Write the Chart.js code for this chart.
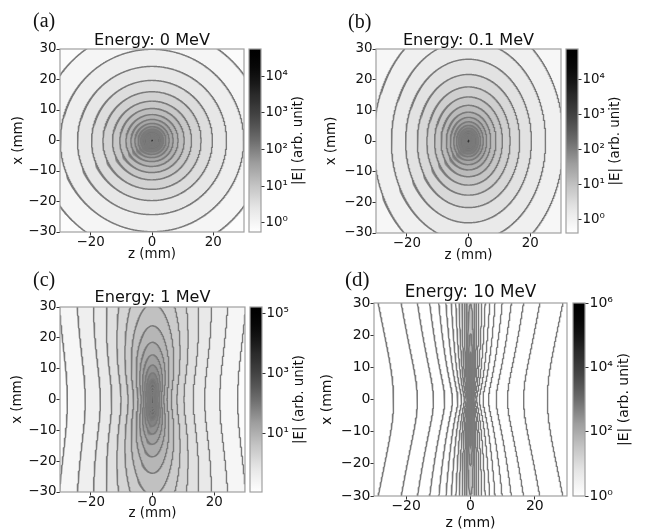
<!DOCTYPE html>
<html><head><meta charset="utf-8">
<script src="https://cdn.jsdelivr.net/npm/chart.js@4.4.1/dist/chart.umd.min.js"></script>
<style>
html,body{margin:0;padding:0;background:#fff;}
#wrap{position:relative;width:646px;height:531px;overflow:hidden;background:#fff;}
#wrap canvas{position:absolute;left:0;top:0;}
</style></head><body><div id="wrap"></div>
<script>
// ---------------- data ----------------
const panelLetters = ['(a)', '(b)', '(c)', '(d)'];
const energiesMeV = [0, 0.1, 1, 10];
const zTickValues = [-20, 0, 20];
const xTickValues = [-30, -20, -10, 0, 10, 20, 30];
// z-intercepts (mm) of each contour line on the x = 0 row
const interceptsA = [36.9, 29.9, 24.3, 19.7, 16.0, 12.9, 10.5, 8.5, 6.9, 5.6, 4.55, 3.7, 3.0, 2.4, 1.95, 1.6, 1.3, 1.05, 0.85, 0.7, 0.56];
const interceptsB = [30.8, 25.0, 20.4, 16.6, 13.5, 11.0, 8.9, 7.2, 5.9, 4.8, 3.9, 3.2, 2.6, 2.1, 1.7, 1.4, 1.1, 0.9, 0.72, 0.58];
const interceptsC = [27.6, 21.8, 16.9, 13.2, 10.2, 7.9, 6.1, 4.7, 3.65, 2.85, 2.2, 1.7, 1.3, 1.0, 0.78, 0.6, 0.47, 0.37, 0.29];
const interceptsD = [23.9, 16.5, 11.5, 8.0, 5.6, 3.9, 2.75, 1.9, 1.35, 0.95, 0.65, 0.46, 0.32, 0.22, 0.16, 0.11, 0.08, 0.055, 0.04];
// colour-bar ranges, log10 |E| (bottom, top)
const colorRangeA = [-0.25, 4.74];
const colorRangeB = [-0.38, 4.88];
const colorRangeC = [-0.95, 5.22];
const colorRangeD = [0, 6];
// colour-bar tick exponents
const colorTicksA = [0, 1, 2, 3, 4];
const colorTicksB = [0, 1, 2, 3, 4];
const colorTicksC = [1, 3, 5];
const colorTicksD = [0, 2, 4, 6];
const fieldScaleLog = 3.065;     // log10 of |E| scale (arb. unit · mm^2)
const electronRestMeV = 0.511;
const colorbarLabel = '|E| (arb. unit)';
const zAxisLabel = 'z (mm)';
const xAxisLabel = 'x (mm)';

// ---------------- layout / style ----------------
const W = 646, H = 531;
const FAM = '"DejaVu Sans", sans-serif';
const TXT = '#111111';
const TICK = '#333333';
const FRAME = '#a0a0a0';
const LINE = '#7a7a7a';
const GAMMA_TONE = 1.6;
const boxes = [
  {L:60,  R:244, T:49,  B:232, cbL:249, cbR:261, yTitleX:19,  xTitleDy:23, titleY:45,  letterX:33,  letterY:27,  fs:13.4, tfs:16.1, lfs:20},
  {L:376, R:561, T:49,  B:233, cbL:566, cbR:578, yTitleX:332, xTitleDy:23, titleY:45,  letterX:348, letterY:28,  fs:13.4, tfs:16.1, lfs:20},
  {L:60,  R:245, T:307, B:492, cbL:250, cbR:262, yTitleX:17.5,xTitleDy:22, titleY:302, letterX:33,  letterY:286, fs:13.4, tfs:16.1, lfs:20},
  {L:374, R:567, T:303, B:496, cbL:573, cbR:585, yTitleX:327, xTitleDy:27, titleY:297, letterX:345, letterY:286, fs:14,   tfs:16.8, lfs:21}
];
const panels = [
  {letter: panelLetters[0], energy: energiesMeV[0], intercepts: interceptsA, range: colorRangeA, cticks: colorTicksA, box: boxes[0]},
  {letter: panelLetters[1], energy: energiesMeV[1], intercepts: interceptsB, range: colorRangeB, cticks: colorTicksB, box: boxes[1]},
  {letter: panelLetters[2], energy: energiesMeV[2], intercepts: interceptsC, range: colorRangeC, cticks: colorTicksC, box: boxes[2]},
  {letter: panelLetters[3], energy: energiesMeV[3], intercepts: interceptsD, range: colorRangeD, cticks: colorTicksD, box: boxes[3]}
];

const SUP = {'0':'\u2070','1':'\u00b9','2':'\u00b2','3':'\u00b3','4':'\u2074','5':'\u2075','6':'\u2076','-':'\u207b'};
const sup = n => String(n).split('').map(c => SUP[c]).join('');
const fmtMinus = v => (v < 0 ? '\u2212' + Math.abs(v) : String(v));

// matplotlib "Greys" (toned to the scanned figure)
const GREYS = [255, 240, 217, 189, 150, 115, 82, 37, 0];
function greyVal(f) {
  f = Math.min(1, Math.max(0, f));
  const p = f * 8, i = Math.min(7, Math.floor(p)), t = p - i;
  const v = GREYS[i] + (GREYS[i + 1] - GREYS[i]) * t;
  return Math.round(255 * Math.pow(v / 255, GAMMA_TONE));
}
const greyAt = f => { const v = greyVal(f); return `rgb(${v},${v},${v})`; };

// level of a contour line given its z-intercept (field of a moving charge)
const levelOf = (r0, gamma) => fieldScaleLog - 2 * Math.log10(gamma) - 2 * Math.log10(r0);

// iso-|E| curve through (z=r0, x=0) for Lorentz factor gamma
function contourPoints(r0, gamma) {
  const b2 = 1 - 1 / (gamma * gamma);
  const pts = [];
  const n = 1440;
  for (let i = 0; i <= n; i++) {
    const psi = 2 * Math.PI * i / n;
    const s = Math.sin(psi), c = Math.cos(psi);
    const r = r0 * Math.pow(1 - b2 * s * s, -0.75);
    pts.push({x: r * c, y: r * s});
  }
  return pts;
}

function addCanvas() {
  const cv = document.createElement('canvas');
  cv.width = W; cv.height = H;
  cv.style.width = W + 'px'; cv.style.height = H + 'px';
  document.getElementById('wrap').appendChild(cv);
  return cv;
}

function makePlot(p) {
  const b = p.box;
  const gamma = 1 + p.energy / electronRestMeV;
  const lv = p.intercepts.map(r => levelOf(r, gamma));
  const span = p.range[1] - p.range[0];
  const frac = L => (L - p.range[0]) / span;
  const n = lv.length;
  const datasets = [];
  for (let k = n - 1; k >= 0; k--) {
    const next = k < n - 1 ? lv[k + 1] : lv[k] + (lv[k] - lv[k - 1]);
    datasets.push({
      data: contourPoints(p.intercepts[k], gamma),
      showLine: true, pointRadius: 0, pointHoverRadius: 0,
      borderColor: LINE, borderWidth: 1.4,
      backgroundColor: greyAt(frac((lv[k] + next) / 2)),
      fill: 'shape', tension: 0, clip: 0
    });
  }
  const outerColor = greyAt(frac(lv[0] - (lv[1] - lv[0]) / 2));
  const yW = b.L - b.yTitleX + b.fs / 2;
  const xH = b.xTitleDy + b.fs / 2;
  const panelPlugin = {
    id: 'panelDeco',
    beforeDatasetsDraw(chart) {
      const a = chart.chartArea, ctx = chart.ctx;
      ctx.save(); ctx.fillStyle = outerColor;
      ctx.fillRect(a.left, a.top, a.right - a.left, a.bottom - a.top);
      ctx.restore();
    },
    afterDatasetsDraw(chart) {
      const a = chart.chartArea, ctx = chart.ctx;
      ctx.save(); ctx.strokeStyle = FRAME; ctx.lineWidth = 1.2;
      ctx.strokeRect(a.left, a.top, a.right - a.left, a.bottom - a.top);
      ctx.restore();
    },
    afterDraw(chart) {
      const a = chart.chartArea, ctx = chart.ctx;
      ctx.save();
      ctx.fillStyle = TXT;
      ctx.font = `${b.tfs}px ${FAM}`;
      ctx.textAlign = 'center'; ctx.textBaseline = 'alphabetic';
      ctx.fillText('Energy: ' + p.energy + ' MeV', (a.left + a.right) / 2, b.titleY);
      ctx.font = `${b.lfs}px "Liberation Serif", "DejaVu Serif", serif`;
      ctx.textAlign = 'left';
      ctx.fillStyle = '#111';
      ctx.fillText(p.letter, b.letterX, b.letterY);
      ctx.restore();
    }
  };
  const tickFont = {family: FAM, size: b.fs, lineHeight: 1};
  return new Chart(addCanvas(), {
    type: 'scatter',
    data: {datasets},
    options: {
      responsive: false, animation: false, events: [],
      layout: {padding: {left: b.L - yW, right: W - b.R, top: b.T, bottom: H - b.B - xH}},
      plugins: {legend: {display: false}, tooltip: {enabled: false}, title: {display: false}},
      scales: {
        x: {
          type: 'linear', min: -30, max: 30,
          afterBuildTicks: s => { s.ticks = zTickValues.map(v => ({value: v})); },
          afterFit: s => { s.height = xH; },
          ticks: {font: tickFont, color: TXT, padding: 0, maxRotation: 0, autoSkip: false, callback: v => fmtMinus(v)},
          grid: {drawOnChartArea: false, drawTicks: true, tickLength: 3.5, color: TICK, lineWidth: 1},
          border: {display: false},
          title: {display: true, text: zAxisLabel, font: tickFont, color: TXT, padding: 0}
        },
        y: {
          type: 'linear', min: -30, max: 30,
          afterBuildTicks: s => { s.ticks = xTickValues.map(v => ({value: v})); },
          afterFit: s => { s.width = yW; },
          ticks: {font: tickFont, color: TXT, padding: 0, autoSkip: false, callback: v => fmtMinus(v)},
          grid: {drawOnChartArea: false, drawTicks: true, tickLength: 3.5, color: TICK, lineWidth: 1},
          border: {display: false},
          title: {display: true, text: xAxisLabel, font: tickFont, color: TXT, padding: 0}
        }
      }
    },
    plugins: [panelPlugin]
  });
}

function makeColorbar(p) {
  const b = p.box;
  const [lo, hi] = p.range;
  const CW = 34;
  const grad = c => {
    const a = c.chart.chartArea;
    if (!a) return '#888';
    const g = c.chart.ctx.createLinearGradient(0, a.bottom, 0, a.top);
    for (let i = 0; i <= 32; i++) g.addColorStop(i / 32, greyAt(i / 32));
    return g;
  };
  const cbPlugin = {
    id: 'cbDeco',
    afterDatasetsDraw(chart) {
      const a = chart.chartArea, ctx = chart.ctx;
      ctx.save(); ctx.strokeStyle = FRAME; ctx.lineWidth = 1.2;
      ctx.strokeRect(a.left, a.top, a.right - a.left, a.bottom - a.top);
      ctx.restore();
    },
    afterDraw(chart) {
      const a = chart.chartArea, ctx = chart.ctx;
      ctx.save();
      ctx.translate(b.cbR + 38 * (b.fs / 13.4), (a.top + a.bottom) / 2);
      ctx.rotate(-Math.PI / 2);
      ctx.fillStyle = TXT; ctx.font = `${b.fs}px ${FAM}`;
      ctx.textAlign = 'center'; ctx.textBaseline = 'middle';
      ctx.fillText(colorbarLabel, 0, 0);
      ctx.restore();
    }
  };
  return new Chart(addCanvas(), {
    type: 'bar',
    data: {labels: ['E'], datasets: [{data: [[Math.pow(10, lo), Math.pow(10, hi)]], backgroundColor: grad, borderWidth: 0, barPercentage: 1, categoryPercentage: 1, borderSkipped: false}]},
    options: {
      responsive: false, animation: false, events: [],
      layout: {padding: {left: b.cbL, right: W - b.cbR - CW, top: b.T, bottom: H - b.B}},
      plugins: {legend: {display: false}, tooltip: {enabled: false}},
      scales: {
        x: {display: false},
        y: {
          type: 'logarithmic', position: 'right', min: Math.pow(10, lo), max: Math.pow(10, hi),
          afterBuildTicks: s => { s.ticks = p.cticks.map(e => ({value: Math.pow(10, e)})); },
          afterFit: s => { s.width = CW; },
          ticks: {font: {family: FAM, size: b.fs}, color: TXT, padding: 1, autoSkip: false,
                  callback: v => '10' + sup(Math.round(Math.log10(v)))},
          grid: {drawOnChartArea: false, drawTicks: true, tickLength: 3.5, color: TICK},
          border: {display: false}
        }
      }
    },
    plugins: [cbPlugin]
  });
}

panels.forEach(p => { makePlot(p); makeColorbar(p); });
</script></body></html>
